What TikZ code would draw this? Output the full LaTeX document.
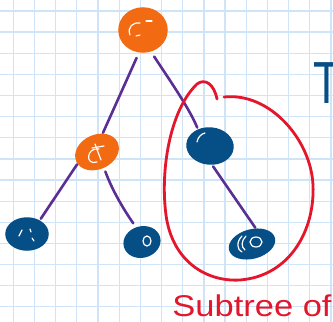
\documentclass[tikz,border=0pt]{standalone}
\usepackage{fontspec}
\setmainfont{Liberation Sans}
\usetikzlibrary{shapes.geometric}
\definecolor{gridblue}{HTML}{CFE5F7}
\definecolor{nodeorange}{HTML}{F26A12}
\definecolor{nodeblue}{HTML}{064E86}
\definecolor{edgepurple}{HTML}{5A2E93}
\definecolor{inkred}{HTML}{E3162B}
\begin{document}
\begin{tikzpicture}[x=1pt,y=-1pt,
  treenode/.style={ellipse, inner sep=0pt, line width=1.5pt},
  orangenode/.style={treenode, fill=nodeorange, draw=nodeorange},
  bluenode/.style={treenode, fill=nodeblue, draw=nodeblue},
  edge/.style={draw=edgepurple, line width=2.6pt, line cap=round},
  shine/.style={draw=white, line width=1.2pt, line cap=round},
  gridline/.style={draw=gridblue, line width=1.3pt},
  ring/.style={draw=inkred, line width=2.8pt, line cap=round}]
\useasboundingbox (0,0) rectangle (333,322);
\fill[white] (0,0) rectangle (333,322);
\foreach \i in {0,...,15} {
  \draw[gridline] ({13.3+21.18*\i},0) -- ({13.3+21.18*\i},322);
  \draw[gridline] (0,{11+21.13*\i}) -- (333,{11+21.13*\i});
}
% nodes
\node[orangenode, minimum width=48pt, minimum height=44pt] (root) at (143,30) {};
\node[orangenode, minimum width=44pt, minimum height=33pt, rotate=25] (left) at (97,152) {};
\node[bluenode, minimum width=46pt, minimum height=36pt, rotate=-5] (right) at (210,146) {};
\node[bluenode, minimum width=42pt, minimum height=32pt] (leafa) at (27,234) {};
\node[bluenode, minimum width=36pt, minimum height=30pt, rotate=15] (leafb) at (142,242) {};
\node[bluenode, minimum width=46pt, minimum height=28pt, rotate=15] (leafc) at (252,244) {};
% highlights
\draw[shine] (130,35) .. controls (127,27) and (133,22) .. (140,23);
\draw[shine] (146,21) -- (152,21);
\draw[shine] (136,36) -- (140,35);
\draw[shine] (99,149) .. controls (86,147) and (85,166) .. (97,162);
\draw[shine] (95,144) -- (101,160);
\draw[shine] (92,148) -- (104,146);
\draw[shine] (197,142) .. controls (198,137) and (201,134) .. (205,133);
\draw[shine] (19,236) -- (22,230);
\draw[shine] (30,229) -- (31,232);
\draw[shine] (32,238) -- (34,241);
\draw[shine] (147,241) ellipse [x radius=4, y radius=5];
\draw[shine] (256,242) ellipse [x radius=6, y radius=5];
\draw[shine] (242,236) .. controls (236,242) and (237,250) .. (242,252);
\draw[shine] (246,236) .. controls (241,241) and (241,247) .. (245,250);
% edges
\draw[edge, shorten <=6pt, shorten >=1pt] (root.-100) -- (left.48);
\draw[edge, shorten <=6pt, shorten >=2pt] (root.-70) .. controls (175,88) and (190,110) .. (right.131);
\draw[edge, shorten <=1pt, shorten >=2pt] (left.186) -- (leafa.47);
\draw[edge, shorten <=4pt, shorten >=5pt] (left.269) .. controls (112,190) and (124,210) .. (leafb.97);
\draw[edge, shorten <=2pt, shorten >=1pt] (right.-79) -- (leafc.61);
% red loop
\draw[ring] (217,99) .. controls (214,84) and (205,78) .. (197,84)
  .. controls (170,110) and (160,170) .. (166,215)
  .. controls (172,260) and (205,282) .. (240,280)
  .. controls (290,276) and (315,230) .. (313,185)
  .. controls (311,140) and (270,92) .. (224,97);
% texts
\node[text=inkred, font=\fontsize{30}{30}\selectfont, xscale=1.15, inner sep=0pt, anchor=base] (caption) at (252,316) {Subtree of};
\node[text=nodeblue, font=\fontsize{44}{44}\selectfont, yscale=1.35, inner sep=0pt, anchor=north] (tee) at (327,62) {T};
\end{tikzpicture}
\end{document}
